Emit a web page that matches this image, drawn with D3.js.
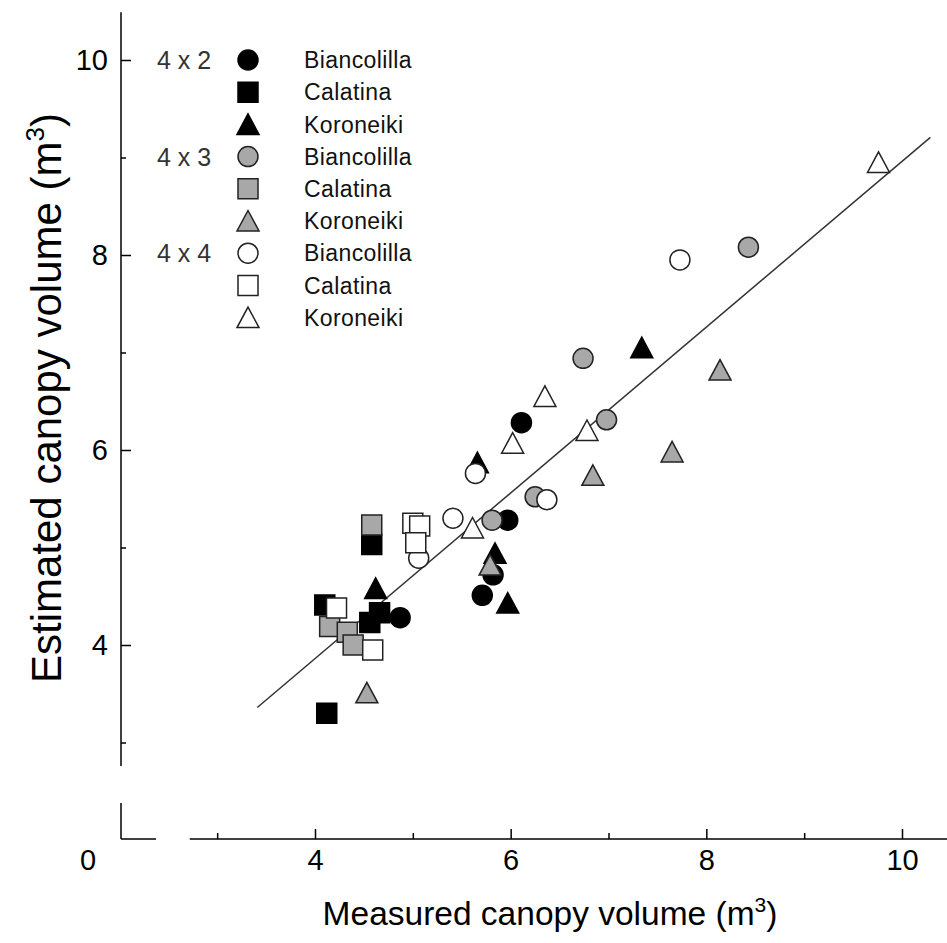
<!DOCTYPE html>
<html>
<head>
<meta charset="utf-8">
<script src="https://cdn.jsdelivr.net/npm/d3@7"></script>
<style>
  body { margin: 0; background: #fff; }
  svg text { font-family: "Liberation Sans", Arial, sans-serif; }
</style>
</head>
<body>
<div id="chart"></div>
<script>
// values: [measured, estimated]
const spacings = ["4 x 2", "4 x 3", "4 x 4"];
const cultivars = ["Biancolilla", "Calatina", "Koroneiki"];

const bianc42 = [[4.87, 4.28], [5.71, 4.51], [5.82, 4.72], [5.97, 5.28], [6.11, 6.28]];
const calat42 = [[4.10, 4.41], [4.12, 3.30], [4.58, 5.03], [4.56, 4.23], [4.66, 4.33]];
const koron42 = [[4.62, 4.58], [5.66, 5.87], [5.84, 4.94], [5.97, 4.43], [7.34, 7.05]];
const bianc43 = [[5.81, 5.28], [6.25, 5.52], [6.74, 6.94], [6.98, 6.31], [8.43, 8.08]];
const calat43 = [[4.58, 5.23], [4.15, 4.19], [4.33, 4.13], [4.39, 4.00]];
const koron43 = [[4.53, 3.51], [5.79, 4.82], [6.84, 5.74], [7.65, 5.98], [8.14, 6.82]];
const bianc44 = [[5.64, 5.76], [5.41, 5.30], [6.37, 5.49], [5.06, 4.89], [7.73, 7.95]];
const calat44 = [[5.00, 5.25], [5.07, 5.22], [5.03, 5.05], [4.22, 4.38], [4.59, 3.95]];
const koron44 = [[5.61, 5.20], [6.02, 6.07], [6.35, 6.55], [6.78, 6.20], [9.76, 8.95]];

// regression line y = a + b x, drawn over this x range
const fitA = 0.46, fitB = 0.85;
const fitRange = [3.41, 10.29];

const majorTicks = [4, 6, 8, 10];
const minorTicks = [3, 5, 7, 9];

const series = [
  { spacing: "4 x 2", cultivar: "Biancolilla", values: bianc42 },
  { spacing: "4 x 2", cultivar: "Calatina", values: calat42 },
  { spacing: "4 x 2", cultivar: "Koroneiki", values: koron42 },
  { spacing: "4 x 3", cultivar: "Biancolilla", values: bianc43 },
  { spacing: "4 x 3", cultivar: "Calatina", values: calat43 },
  { spacing: "4 x 3", cultivar: "Koroneiki", values: koron43 },
  { spacing: "4 x 4", cultivar: "Biancolilla", values: bianc44 },
  { spacing: "4 x 4", cultivar: "Calatina", values: calat44 },
  { spacing: "4 x 4", cultivar: "Koroneiki", values: koron44 }
];

const fill = d3.scaleOrdinal().domain(spacings).range(["#000", "#a8a8a8", "#fff"]);
const stroke = d3.scaleOrdinal().domain(spacings).range(["#000", "#222", "#222"]);

function shapePath(cultivar) {
  if (cultivar === "Biancolilla") {
    const r = 10;
    return `M${-r},0A${r},${r} 0 1,0 ${r},0A${r},${r} 0 1,0 ${-r},0Z`;
  }
  if (cultivar === "Calatina") return "M-10,-10H10V10H-10Z";
  return "M0,-10.5L11,10L-11,10Z";
}

const W = 947, H = 943;
const svg = d3.select("#chart").append("svg")
  .attr("width", W)
  .attr("height", H);

const x = d3.scaleLinear().domain([4, 10]).range([315, 902]);
const y = d3.scaleLinear().domain([4, 10]).range([645, 60]);

const x0 = 121, y0 = 839;  // axis corner (the broken "0")

// y axis
const yAx = svg.append("g").attr("transform", `translate(${x0},0)`);
yAx.append("line")
  .attr("y1", y(10.49)).attr("y2", y(2.76))
  .attr("stroke", "#000").attr("stroke-width", 1.5);
yAx.append("line")
  .attr("y1", y0 - 36).attr("y2", y0)
  .attr("stroke", "#000").attr("stroke-width", 1.5);
yAx.call(d3.axisLeft(y).tickValues(majorTicks).tickFormat(d3.format("d"))
    .tickSizeInner(-10).tickSizeOuter(0).tickPadding(13))
  .call(g => g.select(".domain").remove());
yAx.append("g")
  .call(d3.axisLeft(y).tickValues(minorTicks).tickSizeInner(-5).tickSizeOuter(0).tickFormat(""))
  .call(g => g.select(".domain").remove());

// x axis
const xAx = svg.append("g").attr("transform", `translate(0,${y0})`);
xAx.append("line")
  .attr("x1", x(2.72)).attr("x2", x(10.46))
  .attr("stroke", "#000").attr("stroke-width", 1.5);
xAx.append("line")
  .attr("x1", x0).attr("x2", x0 + 35)
  .attr("stroke", "#000").attr("stroke-width", 1.5);
xAx.call(d3.axisBottom(x).tickValues(majorTicks).tickFormat(d3.format("d"))
    .tickSizeInner(-10).tickSizeOuter(0).tickPadding(10))
  .call(g => g.select(".domain").remove());
xAx.append("g")
  .call(d3.axisBottom(x).tickValues(minorTicks).tickSizeInner(-6).tickSizeOuter(0).tickFormat(""))
  .call(g => g.select(".domain").remove());

svg.selectAll(".tick line").attr("stroke", "#000").attr("stroke-width", 1.5);
svg.selectAll(".tick text")
  .attr("fill", "#000")
  .style("font-size", "29px");

svg.append("text")
  .attr("x", 88).attr("y", y0 + 31)
  .attr("text-anchor", "middle")
  .style("font-size", "29px")
  .text("0");

// axis titles
const xt = svg.append("text")
  .attr("x", 550).attr("y", 925)
  .attr("text-anchor", "middle")
  .style("font-size", "33.5px")
  .text("Measured canopy volume (m");
xt.append("tspan").attr("dy", -13).style("font-size", "21px").text("3");
xt.append("tspan").attr("dy", 13).text(")");

const yt = svg.append("text")
  .attr("transform", "rotate(-90)")
  .attr("x", -398).attr("y", 61)
  .attr("text-anchor", "middle")
  .style("font-size", "42px")
  .text("Estimated canopy volume (m");
yt.append("tspan").attr("dy", -17).style("font-size", "26px").text("3");
yt.append("tspan").attr("dy", 17).text(")");

// regression line
svg.append("line")
  .attr("x1", x(fitRange[0])).attr("y1", y(fitA + fitB * fitRange[0]))
  .attr("x2", x(fitRange[1])).attr("y2", y(fitA + fitB * fitRange[1]))
  .attr("stroke", "#333").attr("stroke-width", 1.5);

// points
series.forEach(s => {
  svg.append("g").selectAll("path")
    .data(s.values)
    .join("path")
    .attr("transform", d => `translate(${x(d[0])},${y(d[1])})`)
    .attr("d", shapePath(s.cultivar))
    .attr("fill", fill(s.spacing))
    .attr("stroke", stroke(s.spacing))
    .attr("stroke-width", 1.5);
});

// legend
const legend = svg.append("g").attr("transform", "translate(0,60)");
const rows = legend.selectAll("g.row")
  .data(series)
  .join("g")
  .attr("class", "row")
  .attr("transform", (d, i) => `translate(0,${i * 32.2})`);

rows.append("path")
  .attr("transform", "translate(248,0)")
  .attr("d", d => shapePath(d.cultivar))
  .attr("fill", d => fill(d.spacing))
  .attr("stroke", d => stroke(d.spacing))
  .attr("stroke-width", 1.5);

rows.append("text")
  .attr("x", 304)
  .attr("dy", "0.36em")
  .style("font-size", "23px")
  .style("letter-spacing", "0.4px")
  .attr("fill", "#111")
  .text(d => d.cultivar);

rows.filter(d => d.cultivar === "Biancolilla")
  .append("text")
  .attr("x", 157)
  .attr("dy", "0.36em")
  .style("font-size", "25px")
  .attr("fill", "#333")
  .text(d => d.spacing);
</script>
</body>
</html>
